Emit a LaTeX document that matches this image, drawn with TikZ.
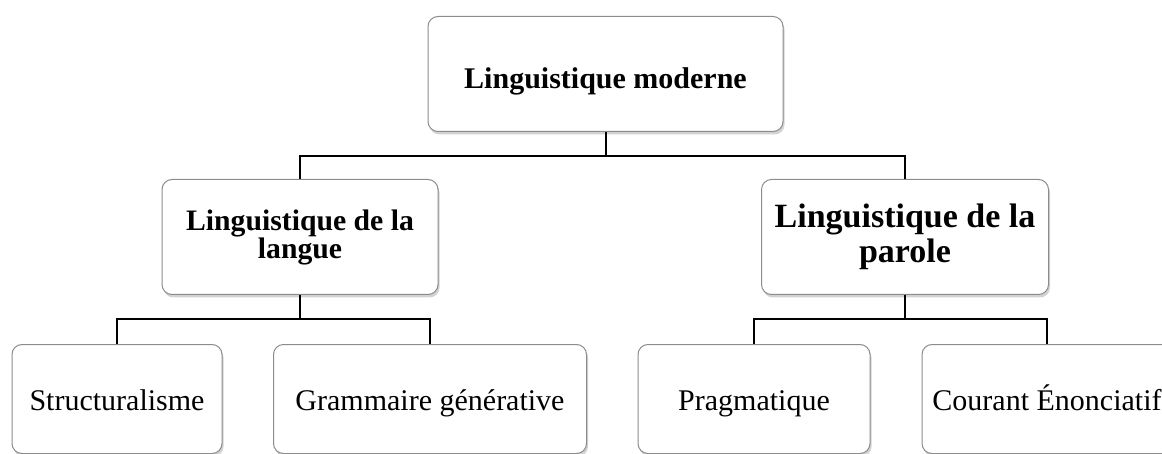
\documentclass[tikz,border=0pt]{standalone}
\usepackage{fontspec}
\setmainfont{Liberation Serif}
\usetikzlibrary{shadows}

\tikzset{
  box/.style={draw=black!45, line width=1pt, rounded corners=10pt, fill=white,
    drop shadow={shadow xshift=1.5pt, shadow yshift=-3pt, fill=black!25, opacity=0.7},
    align=center, inner sep=0pt, anchor=north},
  rootbox/.style={box, minimum width=355pt, minimum height=115pt,
    text height=29pt, text depth=0pt,
    font=\bfseries\fontsize{30}{30}\selectfont},
  midbox/.style={box, minimum height=115pt},
  leafbox/.style={box, minimum height=109pt, text height=23pt, text depth=0pt,
    font=\fontsize{30}{36}\selectfont},
  link/.style={draw=black, line width=2pt}
}

\begin{document}
\begin{tikzpicture}[x=1pt, y=1pt,
  growth parent anchor=south,
  edge from parent/.style={link},
  edge from parent path={(\tikzparentnode.south) -- ++(0,-24pt) -| (\tikzchildnode.north)},
  level 1/.style={level distance=47pt, sibling distance=605pt},
  level 2/.style={level distance=49pt, sibling distance=300pt}]
\useasboundingbox (0,0) rectangle (1162,-454);
%Root of the tree, the two branches hang below it
% and each branch splits again into two leaves
\node[rootbox] (moderne) at (605.5,-16) {Linguistique moderne}
    child{
      node[midbox, xshift=-3pt, minimum width=276pt,
           font=\bfseries\fontsize{29.7}{28}\selectfont] (langue)
           {Linguistique de la\\langue}
       child{
         node[leafbox, xshift=-33pt, minimum width=210pt] (struct){Structuralisme}
         }
       child{
         node[leafbox, xshift=-20pt, minimum width=313pt] (gramm){Grammaire générative}
         }
     }
  child{
    node[midbox, xshift=-3pt, minimum width=287pt,
         font=\bfseries\fontsize{34}{35}\selectfont] (parole)
         {Linguistique de la\\parole}
       child{
         node[leafbox, xshift=-1pt, minimum width=232pt] (prag){Pragmatique}
         }
       child{
         node[leafbox, xshift=-8pt, minimum width=250pt] (courant){Courant Énonciatif}
         }
    };
\end{tikzpicture}
\end{document}
